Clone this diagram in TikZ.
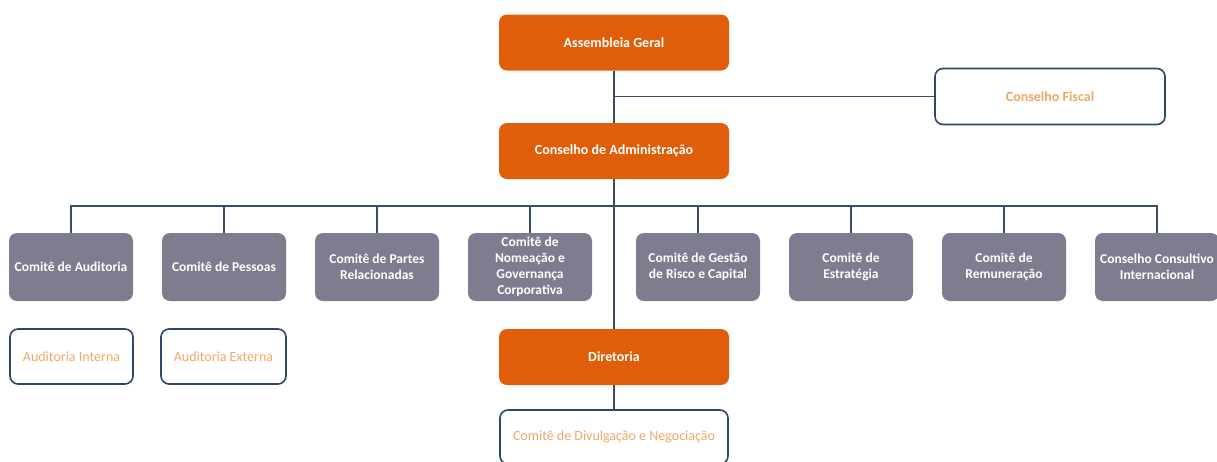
\documentclass[tikz,border=0pt]{standalone}
\usepackage{fontspec}
\setmainfont{Carlito}
\definecolor{orgfill}{RGB}{224,94,10}
\definecolor{grayfill}{RGB}{126,125,143}
\definecolor{bordblue}{RGB}{44,70,108}
\definecolor{lightorange}{RGB}{240,168,104}
\definecolor{linecol}{RGB}{58,77,102}
\begin{document}
\begin{tikzpicture}[x=1pt,y=-1pt,
  orgbox/.style={fill=orgfill, draw=none, rounded corners=8pt, minimum width=230pt, minimum height=56pt, text=white, font=\fontsize{14}{16.5}\selectfont\bfseries, align=center, inner sep=1pt},
  graybox/.style={fill=grayfill, draw=none, rounded corners=8pt, minimum width=124pt, minimum height=68pt, text=white, font=\fontsize{13.5}{16}\selectfont\bfseries, align=center, inner sep=0pt},
  whitebox/.style={fill=white, draw=bordblue, line width=1.6pt, rounded corners=8pt, text=lightorange, font=\fontsize{14}{16.5}\selectfont, align=center, inner sep=1pt},
  conn/.style={draw=linecol, line width=1.2pt}]
\useasboundingbox (0,0) rectangle (1217,461);
% top chain
\node[orgbox] (ag) at (614,42.5) {Assembleia Geral};
\node[orgbox] (ca) at (614,151) {Conselho de Administração};
\node[orgbox] (dir) at (614,357) {Diretoria};
\node[whitebox, minimum width=228pt, minimum height=54pt] (div) at (614,437) {Comitê de Divulgação e Negociação};
\node[whitebox, minimum width=230pt, minimum height=56pt, font=\fontsize{14}{16.5}\selectfont\bfseries] (cf) at (1050,96.5) {Conselho Fiscal};
% committees
\node[graybox] (c1) at (71,267) {Comitê de Auditoria};
\node[graybox] (c2) at (224,267) {Comitê de Pessoas};
\node[graybox] (c3) at (377,267) {Comitê de Partes\\Relacionadas};
\node[graybox] (c4) at (530,267) {Comitê de\\Nomeação e\\Governança\\Corporativa};
\node[graybox] (c5) at (698,267) {Comitê de Gestão\\de Risco e Capital};
\node[graybox] (c6) at (851,267) {Comitê de\\Estratégia};
\node[graybox] (c7) at (1004,267) {Comitê de\\Remuneração};
\node[graybox] (c8) at (1157,267) {Conselho Consultivo\\Internacional};
% audit boxes
\node[whitebox, minimum width=123pt, minimum height=55pt] (ai) at (71.5,356.5) {Auditoria Interna};
\node[whitebox, minimum width=125pt, minimum height=55pt] (ae) at (223.5,356.5) {Auditoria Externa};
% connectors
\coordinate (jf) at (614,96.5);
\coordinate (bus) at (614,206);
\draw[conn] (ag.south) -- (ca.north);
\draw[conn] (jf) -- (cf.west);
\draw[conn] (ca.south) -- (dir.north);
\draw[conn] (dir.south) -- (div.north);
\draw[conn] (c1.north) |- (bus) -| (c8.north);
\foreach \c in {c2,c3,c4,c5,c6,c7}{
  \draw[conn] (\c.north) -- (\c.north |- bus);
}
\end{tikzpicture}
\end{document}
